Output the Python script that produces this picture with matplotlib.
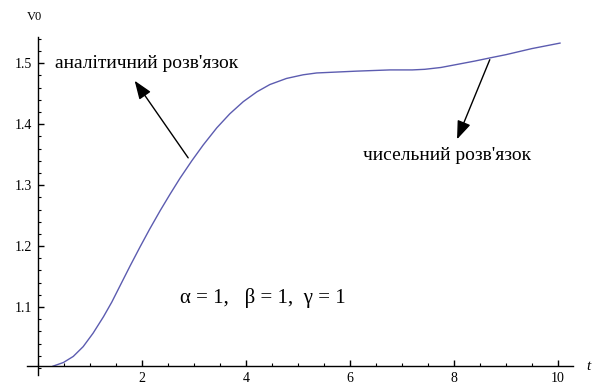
import matplotlib
matplotlib.use("Agg")
import matplotlib.pyplot as plt
from matplotlib.ticker import MultipleLocator, FixedLocator

t = [0.29, 0.49, 0.68, 0.87, 1.06, 1.26, 1.42, 1.58, 1.77, 1.96, 2.15, 2.35, 2.54,
     2.73, 2.96, 3.18, 3.44, 3.69, 3.95, 4.21, 4.46, 4.78, 5.10, 5.36, 6.13, 6.77,
     7.20, 7.44, 7.75, 8.06, 8.40, 8.71, 9.00, 9.50, 10.04]
V0 = [1.003, 1.009, 1.019, 1.035, 1.057, 1.084, 1.108, 1.135, 1.167, 1.198, 1.228,
      1.258, 1.285, 1.311, 1.340, 1.366, 1.394, 1.417, 1.437, 1.453, 1.465, 1.475,
      1.481, 1.484, 1.487, 1.489, 1.489, 1.490, 1.493, 1.498, 1.5035, 1.509, 1.514,
      1.524, 1.533]
x_ticks = [2, 4, 6, 8, 10]
y_ticks = [1.1, 1.2, 1.3, 1.4, 1.5]
label_analytic = "аналітичний розв'язок"
label_numeric = "чисельний розв'язок"
params_text = "α = 1,   β = 1,  γ = 1"

plt.rcParams['font.family'] = ['Liberation Serif', 'DejaVu Serif']

W, H = 594, 389
fig = plt.figure(figsize=(W / 100, H / 100), dpi=100)
left_px, right_px, top_px, bot_px = 27, 573, 37, 375
ax = fig.add_axes([left_px / W, 1 - bot_px / H, (right_px - left_px) / W, (bot_px - top_px) / H])

ax.plot(t, V0, color='#5c5cb0', lw=1.0)
ax.set_xlim(-0.21, 10.29)
ax.set_ylim(0.9885, 1.543)

for s in ['top', 'right']:
    ax.spines[s].set_visible(False)
ax.spines['left'].set_position(('data', 0))
ax.spines['bottom'].set_position(('data', 1.003))
for s in ['left', 'bottom']:
    ax.spines[s].set_linewidth(1.0)

ax.xaxis.set_major_locator(FixedLocator(x_ticks))
ax.yaxis.set_major_locator(FixedLocator(y_ticks))
ax.xaxis.set_minor_locator(MultipleLocator(0.5))
ax.yaxis.set_minor_locator(MultipleLocator(0.02))
ax.set_xticklabels([str(v) for v in x_ticks])
ax.set_yticklabels([f"{v:.1f}" for v in y_ticks])
ax.tick_params(which='major', direction='in', length=4, width=1.0, labelsize=10, pad=4)
ax.tick_params(which='minor', direction='in', length=2.5, width=0.8)

fig.text(34 / W, 1 - 17 / H, "V0", fontsize=9, ha='center', va='center')
fig.text(588 / W, 1 - 366 / H, "t", fontsize=11, style='italic', ha='center', va='center')

ax.annotate("", xy=(1.83, 1.475), xytext=(2.92, 1.341),
            arrowprops=dict(arrowstyle='-|>,head_width=0.3,head_length=0.8',
                            color='black', lw=1.0, mutation_scale=14))
ax.annotate("", xy=(8.04, 1.371), xytext=(8.71, 1.510),
            arrowprops=dict(arrowstyle='-|>,head_width=0.3,head_length=0.8',
                            color='black', lw=1.0, mutation_scale=14))
ax.text(0.33, 1.5, label_analytic, fontsize=14, ha='left', va='center')
ax.text(6.25, 1.349, label_numeric, fontsize=14, ha='left', va='center')
ax.text(2.73, 1.115, params_text, fontsize=15, ha='left', va='center')

fig.savefig("out.png", dpi=100)
